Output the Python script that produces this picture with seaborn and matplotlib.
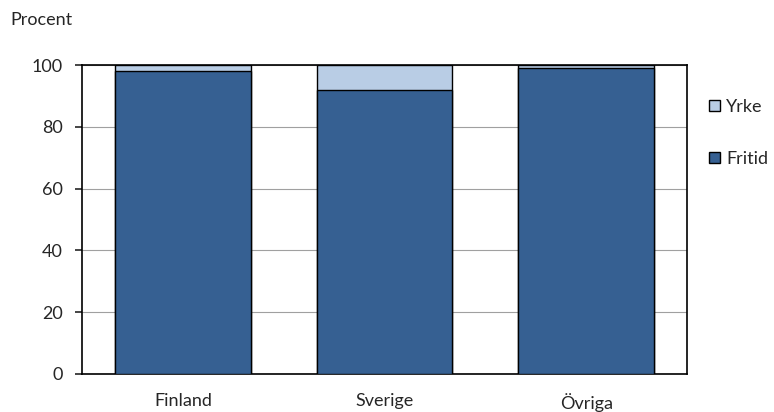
import matplotlib
matplotlib.use("Agg")
import matplotlib.pyplot as plt
import pandas as pd
import seaborn as sns
from matplotlib.patches import Patch

# data
categories = ['Finland', 'Sverige', 'Övriga']
fritid = [98.1, 91.9, 98.9]
yrke = [1.9, 8.1, 1.1]

df = pd.DataFrame({'Land': categories, 'Fritid': fritid, 'Yrke': yrke})
df['Total'] = df['Fritid'] + df['Yrke']

sns.set_style("white")
plt.rcParams['font.family'] = ['Lato', 'DejaVu Sans']
plt.rcParams['font.size'] = 13

dark = '#366092'
light = '#B9CDE5'

fig = plt.figure(figsize=(7.74, 4.12), dpi=100)
ax = fig.add_axes([82 / 774, 1 - 374 / 412, 605 / 774, 309 / 412])

# stapla: totalen först (ljus), fritid ovanpå (mörk)
sns.barplot(data=df, x='Land', y='Total', color=light, edgecolor='black',
            linewidth=1, width=0.672, saturation=1, ax=ax, zorder=3)
sns.barplot(data=df, x='Land', y='Fritid', color=dark, edgecolor='black',
            linewidth=1, width=0.672, saturation=1, ax=ax, zorder=4)

ax.set_ylim(0, 100)
ax.set_xlim(-0.5, 2.5)
ax.set_yticks([0, 20, 40, 60, 80, 100])
ax.yaxis.grid(True, color='#a0a0a0', linewidth=0.8, zorder=0)
ax.set_xlabel('')
ax.set_ylabel('')
for s in ax.spines.values():
    s.set_visible(True)
    s.set_color('black')
    s.set_linewidth(1.2)
ax.tick_params(axis='y', length=5, width=1.2, direction='out', left=True, labelsize=13, pad=9)
ax.tick_params(axis='x', length=0, labelsize=13, pad=14)

fig.text(10 / 774, 1 - 20 / 412, 'Procent', fontsize=13, va='center', ha='left')

handles = [Patch(facecolor=light, edgecolor='black', label='Yrke'),
           Patch(facecolor=dark, edgecolor='black', label='Fritid')]
fig.legend(handles=handles, loc='center left', bbox_to_anchor=(709 / 774, 1 - 133 / 412),
           frameon=False, fontsize=13, handlelength=0.6, handleheight=0.6,
           handletextpad=0.35, labelspacing=2.0, borderpad=0, borderaxespad=0)

fig.savefig('out.png', dpi=100)
